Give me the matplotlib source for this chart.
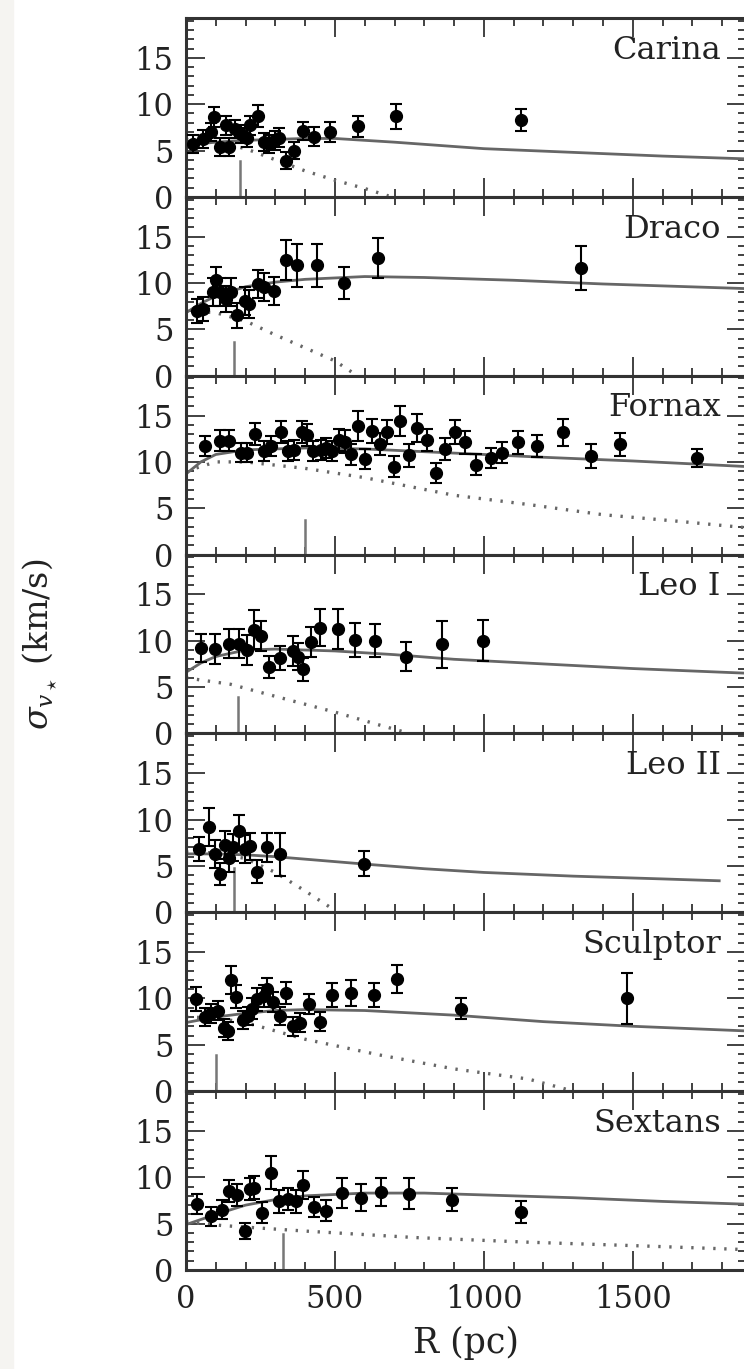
import numpy as np
import matplotlib
matplotlib.use("Agg")
import matplotlib.pyplot as plt
from matplotlib.patches import Rectangle
from matplotlib.ticker import MultipleLocator

plt.rcParams['font.family'] = ['DejaVu Serif']
plt.rcParams['mathtext.fontset'] = 'dejavuserif'

# ---- data ----
names = ['Carina', 'Draco', 'Fornax', 'Leo I', 'Leo II', 'Sculptor', 'Sextans']

carina_R = [25, 57, 83, 95, 115, 134, 146, 165, 184, 204, 216, 242, 261, 280, 299, 312, 337, 363, 394, 429, 483, 579, 706, 1126]
carina_sig = [5.7, 6.25, 7.0, 8.6, 5.4, 7.7, 5.4, 7.3, 6.8, 6.4, 7.7, 8.75, 5.9, 5.7, 6.1, 6.4, 3.9, 5.0, 7.1, 6.5, 7.0, 7.6, 8.7, 8.3]
carina_err = [1.0, 1.0, 1.0, 1.1, 1.0, 1.0, 1.0, 1.0, 1.0, 1.0, 1.0, 1.2, 1.0, 1.0, 1.0, 1.0, 0.9, 0.9, 1.0, 1.0, 1.05, 1.1, 1.35, 1.15]

draco_R = [38, 57, 89, 102, 115, 134, 150, 172, 197, 212, 242, 261, 296, 335, 373, 441, 532, 646, 1327]
draco_sig = [7.0, 7.2, 9.0, 10.3, 9.0, 8.3, 9.0, 6.5, 8.1, 7.7, 9.9, 9.6, 9.1, 12.5, 11.9, 11.9, 10.0, 12.7, 11.6]
draco_err = [1.3, 1.3, 1.5, 1.45, 1.5, 1.4, 1.5, 1.3, 1.5, 1.5, 1.5, 1.5, 1.5, 2.15, 2.3, 2.3, 1.7, 2.2, 2.35]

fornax_R = [64, 115, 146, 184, 204, 233, 261, 286, 318, 343, 363, 388, 407, 426, 452, 471, 490, 515, 534, 553,
            576, 600, 626, 651, 674, 699, 719, 750, 776, 808, 840, 871, 903, 935, 973, 1024, 1062, 1113, 1177,
            1266, 1361, 1456, 1717]
fornax_sig = [11.7, 12.3, 12.3, 11.0, 11.0, 13.0, 11.2, 11.7, 13.2, 11.2, 11.3, 13.2, 12.9, 11.2, 11.3, 11.5, 11.2,
              12.4, 12.2, 10.8, 13.9, 10.3, 13.3, 11.9, 13.2, 9.5, 14.4, 10.7, 13.7, 12.4, 8.8, 11.4, 13.2, 12.1,
              9.7, 10.4, 11.0, 12.1, 11.7, 13.2, 10.6, 11.9, 10.4]
fornax_err = [1.1, 1.1, 1.1, 1.0, 1.0, 1.2, 1.1, 1.1, 1.2, 1.1, 1.1, 1.2, 1.2, 1.1, 1.1, 1.1, 1.1, 1.2, 1.2, 1.1,
              1.6, 1.1, 1.3, 1.2, 1.3, 1.1, 1.6, 1.2, 1.5, 1.2, 1.1, 1.2, 1.3, 1.2, 1.1, 1.1, 1.1, 1.2, 1.2,
              1.45, 1.3, 1.25, 1.0]

leo1_R = [51, 98, 146, 178, 204, 229, 251, 277, 314, 360, 375, 394, 420, 449, 509, 566, 633, 740, 859, 996]
leo1_sig = [9.2, 9.1, 9.7, 9.7, 9.0, 11.2, 10.5, 7.2, 8.1, 8.9, 8.3, 6.9, 9.9, 11.4, 11.3, 10.1, 10.0, 8.3, 9.6, 10.0]
leo1_err = [1.5, 1.6, 1.6, 1.6, 1.6, 2.1, 1.6, 1.2, 1.3, 1.6, 1.5, 1.2, 1.6, 2.0, 2.15, 1.8, 1.8, 1.6, 2.5, 2.2]

leo2_R = [42, 76, 98, 115, 131, 146, 159, 178, 197, 216, 239, 273, 314, 599]
leo2_sig = [6.8, 9.2, 6.25, 4.1, 7.3, 5.9, 7.0, 8.75, 6.8, 7.1, 4.4, 7.0, 6.25, 5.25]
leo2_err = [1.3, 2.0, 1.5, 1.2, 1.5, 1.5, 1.5, 1.8, 1.5, 1.5, 1.2, 1.6, 2.3, 1.35]

sculptor_R = [34, 64, 85, 106, 127, 140, 150, 169, 191, 207, 223, 238, 261, 273, 293, 315, 335, 360, 382, 413,
              449, 490, 553, 632, 710, 922, 1482]
sculptor_sig = [9.9, 8.0, 8.4, 8.7, 6.8, 6.5, 12.0, 10.2, 7.7, 8.1, 8.9, 9.9, 10.3, 11.0, 9.6, 8.1, 10.6, 7.0, 7.4,
                9.4, 7.5, 10.4, 10.6, 10.4, 12.1, 8.9, 10.0]
sculptor_err = [1.3, 1.0, 1.0, 1.0, 1.0, 1.0, 1.55, 1.2, 1.0, 1.0, 1.1, 1.2, 1.2, 1.2, 1.1, 1.0, 1.2, 1.0, 1.0,
                1.1, 1.0, 1.3, 1.4, 1.3, 1.5, 1.1, 2.8]

sextans_R = [38, 83, 121, 146, 172, 197, 216, 229, 254, 284, 312, 343, 369, 394, 430, 471, 525, 588, 655, 750, 893, 1126]
sextans_sig = [7.1, 5.8, 6.5, 8.5, 8.1, 4.2, 8.7, 8.9, 6.2, 10.5, 7.4, 7.7, 7.4, 9.2, 6.8, 6.4, 8.3, 7.8, 8.4, 8.25, 7.6, 6.25]
sextans_err = [1.1, 1.0, 1.0, 1.2, 1.2, 0.9, 1.2, 1.2, 1.1, 1.8, 1.2, 1.2, 1.2, 1.5, 1.1, 1.1, 1.6, 1.45, 1.5, 1.7, 1.25, 1.15]

# model curves (solid = total, dotted = stars only)
carina_mR = [0, 100, 200, 300, 400, 500, 700, 1000, 1300, 1600, 1880]
carina_m = [5.6, 5.9, 6.1, 6.2, 6.3, 6.3, 5.9, 5.2, 4.8, 4.4, 4.1]
carina_sR = [0, 100, 200, 300, 400, 500, 600, 680]
carina_s = [6.2, 5.9, 5.2, 4.0, 2.8, 1.8, 0.9, 0.1]

draco_mR = [0, 50, 100, 200, 300, 400, 600, 800, 1100, 1400, 1880]
draco_m = [6.8, 7.8, 8.6, 9.6, 10.1, 10.4, 10.7, 10.6, 10.3, 9.9, 9.4]
draco_sR = [0, 100, 200, 300, 400, 500, 575]
draco_s = [7.0, 6.8, 5.9, 4.4, 3.0, 1.6, 0.0]

fornax_mR = [0, 50, 100, 200, 400, 600, 800, 1000, 1200, 1500, 1880]
fornax_m = [8.7, 10.0, 10.8, 11.3, 11.5, 11.4, 11.1, 10.8, 10.5, 10.1, 9.5]
fornax_sR = [0, 100, 200, 400, 600, 900, 1150, 1400, 1650, 1880]
fornax_s = [9.0, 10.0, 10.0, 9.3, 8.3, 6.4, 5.4, 4.3, 3.6, 2.9]

leo1_mR = [0, 50, 100, 200, 300, 500, 700, 900, 1200, 1500, 1880]
leo1_m = [6.6, 7.6, 8.3, 9.0, 9.1, 8.9, 8.5, 8.0, 7.5, 7.0, 6.5]
leo1_sR = [0, 150, 300, 500, 650, 750]
leo1_s = [6.0, 5.3, 4.0, 2.3, 0.9, 0.0]

leo2_mR = [0, 100, 200, 300, 450, 600, 800, 1000, 1300, 1600, 1790]
leo2_m = [6.3, 6.3, 6.2, 6.0, 5.6, 5.2, 4.7, 4.3, 3.9, 3.6, 3.4]
leo2_sR = [0, 100, 200, 300, 400, 500]
leo2_s = [6.5, 6.4, 5.8, 4.3, 2.3, 0.2]

sculptor_mR = [0, 100, 200, 300, 400, 600, 900, 1200, 1500, 1880]
sculptor_m = [7.4, 8.0, 8.4, 8.7, 8.8, 8.7, 8.2, 7.5, 7.0, 6.5]
sculptor_sR = [0, 100, 200, 400, 650, 900, 1150, 1300]
sculptor_s = [8.0, 7.9, 7.4, 5.6, 3.9, 2.4, 1.3, 0.0]

sextans_mR = [0, 100, 200, 300, 400, 600, 800, 1000, 1300, 1600, 1880]
sextans_m = [4.9, 6.0, 7.0, 7.6, 8.0, 8.3, 8.3, 8.1, 7.8, 7.4, 7.1]
sextans_sR = [0, 120, 400, 770, 1150, 1530, 1880]
sextans_s = [5.2, 4.8, 4.2, 3.5, 3.0, 2.6, 2.2]

# core radius markers (R, marker height)
r_core = [180, 162, 400, 174, 162, 102, 327]
r_core_h = [3.9, 3.6, 3.7, 3.9, 4.8, 3.9, 3.9]

panels = [
    (carina_R, carina_sig, carina_err, carina_mR, carina_m, carina_sR, carina_s),
    (draco_R, draco_sig, draco_err, draco_mR, draco_m, draco_sR, draco_s),
    (fornax_R, fornax_sig, fornax_err, fornax_mR, fornax_m, fornax_sR, fornax_s),
    (leo1_R, leo1_sig, leo1_err, leo1_mR, leo1_m, leo1_sR, leo1_s),
    (leo2_R, leo2_sig, leo2_err, leo2_mR, leo2_m, leo2_sR, leo2_s),
    (sculptor_R, sculptor_sig, sculptor_err, sculptor_mR, sculptor_m, sculptor_sR, sculptor_s),
    (sextans_R, sextans_sig, sextans_err, sextans_mR, sextans_m, sextans_sR, sextans_s),
]

# ---- figure ----
W, H = 744, 1369
fig = plt.figure(figsize=(W / 100, H / 100), dpi=100)
fig.patches.append(Rectangle((0, 0), 13 / W, 1, transform=fig.transFigure, color='#f5f4f1', zorder=0))

left, right = 186 / W, 746 / W
top, bottom = 1 - 18 / H, 1 - 1270 / H
ph = (top - bottom) / len(names)

axes = []
for i, (name, p) in enumerate(zip(names, panels)):
    R, sig, err, mR, m, sR, s = p
    ax = fig.add_axes([left, top - (i + 1) * ph, right - left, ph])
    axes.append(ax)

    ax.plot(mR, m, '-', color='#666666', lw=2.0, zorder=2)
    ax.plot(sR, s, color='#666666', lw=2.4, linestyle=(0, (0.7, 2.6)), zorder=2)
    ax.plot([r_core[i], r_core[i]], [0, r_core_h[i]], color='#777777', lw=1.8, zorder=2)
    ax.errorbar(R, sig, yerr=err, fmt='o', color='black', ms=8.5, elinewidth=1.5,
                capsize=4, capthick=1.5, zorder=3)

    # panel name sits on the 15 km/s tick, right-aligned
    ax.text(0.955, 14.9, name, transform=ax.get_yaxis_transform(), ha='right', va='baseline',
            fontsize=23, color='#222222')

    ax.set_xlim(0, 1880)
    ax.set_ylim(0, 19.3)
    ax.xaxis.set_major_locator(MultipleLocator(500))
    ax.xaxis.set_minor_locator(MultipleLocator(100))
    ax.yaxis.set_major_locator(MultipleLocator(5))
    ax.yaxis.set_minor_locator(MultipleLocator(1))
    ax.tick_params(which='both', direction='in', top=True, right=True, color='#333333', width=1.3)
    ax.tick_params(which='major', length=14)
    ax.tick_params(which='minor', length=6)
    ax.tick_params(axis='y', labelsize=22, pad=9, labelcolor='#222222')
    ax.tick_params(axis='x', labelsize=22, pad=10, labelcolor='#222222')
    for sp in ax.spines.values():
        sp.set_linewidth(2.2)
        sp.set_color('#333333')
    if i < len(names) - 1:
        ax.tick_params(axis='x', labelbottom=False)

axes[-1].set_xlabel('R (pc)', fontsize=25, labelpad=8, color='#222222')
fig.text(0.055, (top + bottom) / 2, r'$\sigma_{v_\star}$ (km/s)', rotation=90, ha='center', va='center',
         fontsize=24, color='#222222')

fig.savefig('out.png', dpi=100)
